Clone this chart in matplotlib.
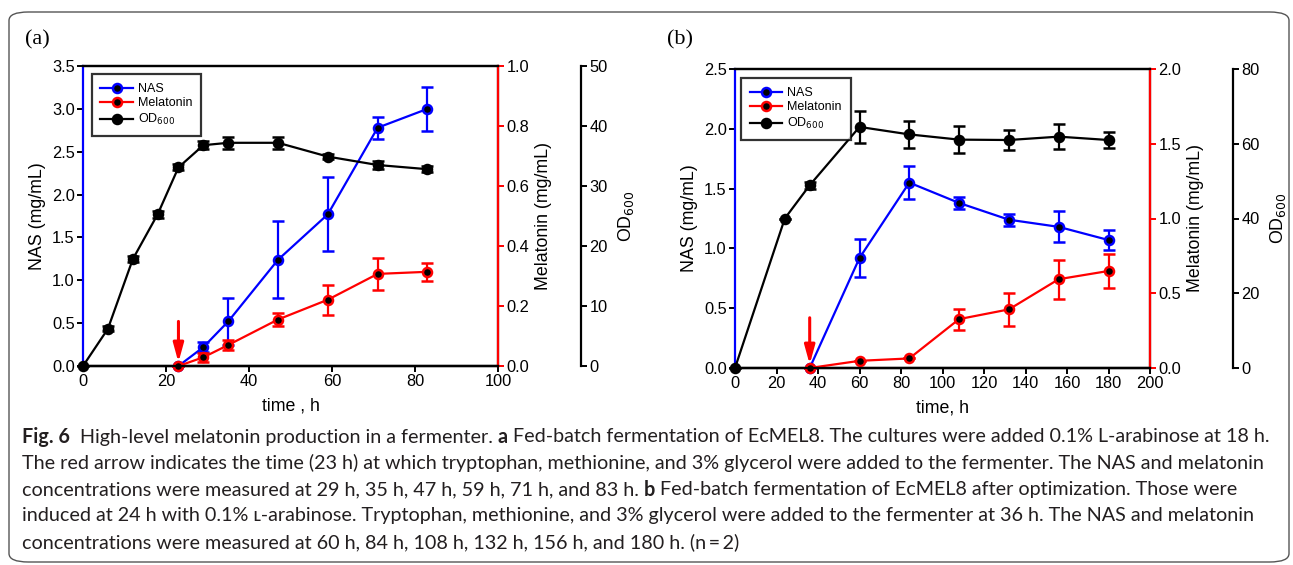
import matplotlib
matplotlib.use("Agg")
import matplotlib.pyplot as plt
from matplotlib.patches import FancyBboxPatch

plt.rcParams['font.family'] = ['Liberation Sans', 'DejaVu Sans']

# ---- panel (a) data ----
a_od_t = [0, 6, 12, 18, 23, 29, 35, 47, 59, 71, 83]
a_od = [0, 6.2, 17.8, 25.3, 33.1, 36.8, 37.2, 37.2, 34.9, 33.5, 32.8]
a_od_err = [0, 0.4, 0.5, 0.6, 0.5, 0.7, 1.0, 1.0, 0.4, 0.7, 0.5]
a_t = [23, 29, 35, 47, 59, 71, 83]
a_nas = [0, 0.22, 0.52, 1.24, 1.77, 2.78, 3.0]
a_nas_err = [0, 0.06, 0.27, 0.45, 0.43, 0.13, 0.26]
a_mel = [0, 0.029, 0.070, 0.155, 0.221, 0.307, 0.314]
a_mel_err = [0, 0.015, 0.018, 0.022, 0.05, 0.053, 0.031]
a_feed = 23

# ---- panel (b) data ----
b_od_t = [0, 24, 36, 60, 84, 108, 132, 156, 180]
b_od = [0, 40.0, 48.9, 64.5, 62.5, 61.1, 61.0, 61.9, 61.0]
b_od_err = [0, 0, 0.9, 4.3, 3.6, 3.6, 2.8, 3.3, 2.2]
b_t = [36, 60, 84, 108, 132, 156, 180]
b_nas = [0, 0.92, 1.55, 1.38, 1.24, 1.18, 1.07]
b_nas_err = [0, 0.16, 0.14, 0.05, 0.05, 0.13, 0.08]
b_mel = [0, 0.048, 0.064, 0.327, 0.392, 0.594, 0.649]
b_mel_err = [0, 0, 0, 0.07, 0.108, 0.13, 0.112]
b_feed = 36

W, H = 1293, 565
fig = plt.figure(figsize=(W / 100, H / 100), dpi=100)

# rounded border around the whole figure
fig.patches.append(FancyBboxPatch((9 / W, 3 / H), 1280 / W, 550 / H,
                                  boxstyle="round,pad=0,rounding_size=0.015",
                                  transform=fig.transFigure, fill=False,
                                  ec='#555555', lw=1.0))


def panel(rect, od_t, od, od_err, t, nas, nas_err, mel, mel_err, feed,
          xmax, xstep, nasmax, nasstep, melmax, melstep, odmax, odstep,
          xlabel, legpos, arrow_top):
    ax = fig.add_axes(rect)
    ax2 = ax.twinx()
    ax3 = ax.twinx()
    ax3.spines['right'].set_position(('axes', 1.2))
    lw = 1.6
    eb = dict(capsize=4, capthick=lw, elinewidth=lw, lw=lw, marker='o',
              ms=6.5, mfc='black', mew=1.8, clip_on=False)
    h1 = ax.errorbar(t, nas, yerr=nas_err, color='blue', mec='blue', zorder=3, **eb)
    h2 = ax2.errorbar(t, mel, yerr=mel_err, color='red', mec='red', zorder=3, **eb)
    h3 = ax3.errorbar(od_t, od, yerr=od_err, color='black', mec='black', zorder=3, **eb)
    for line in (h1, h2, h3):
        for c in line.get_children():
            c.set_clip_on(False)

    ax.set_xlim(0, xmax)
    ax.set_xticks(range(0, xmax + 1, xstep))
    ax.set_ylim(0, nasmax)
    ax.set_yticks([i * nasstep for i in range(int(round(nasmax / nasstep)) + 1)])
    ax.yaxis.set_major_formatter(plt.FormatStrFormatter('%.1f'))
    ax2.set_ylim(0, melmax)
    ax2.set_yticks([i * melstep for i in range(int(round(melmax / melstep)) + 1)])
    ax2.yaxis.set_major_formatter(plt.FormatStrFormatter('%.1f'))
    ax3.set_ylim(0, odmax)
    ax3.set_yticks(range(0, odmax + 1, odstep))

    for a in (ax, ax2, ax3):
        for s in a.spines.values():
            s.set_linewidth(1.6)
        a.tick_params(direction='out', width=1.4, length=4, labelsize=11.8, pad=2)
    ax.spines['left'].set_color('blue')
    ax2.spines['right'].set_color('red')
    ax2.tick_params(axis='y', colors='red', labelcolor='black')
    ax3.spines['top'].set_visible(False)
    ax3.spines['left'].set_visible(False)
    ax2.spines['left'].set_visible(False)

    ax.set_ylabel('NAS (mg/mL)', fontsize=12.8, labelpad=4)
    ax2.set_ylabel('Melatonin (mg/mL)', fontsize=12.8, labelpad=4)
    ax3.set_ylabel('OD$_{600}$', fontsize=12.8, labelpad=6)
    ax.set_xlabel(xlabel, fontsize=12.8, labelpad=6)

    ax.annotate('', xy=(feed, 0.03 * nasmax / 2.5), xytext=(feed, arrow_top),
                arrowprops=dict(arrowstyle='-|>,head_length=0.8,head_width=0.22',
                                color='red', lw=2.2,
                                mutation_scale=14, shrinkA=0, shrinkB=0))

    leg = ax3.legend([h1[0], h2[0], h3[0]], ['NAS', 'Melatonin', 'OD$_{600}$'],
                     loc='upper left', bbox_to_anchor=legpos, fontsize=9,
                     frameon=True, fancybox=False, handlelength=2.6,
                     borderpad=0.7, labelspacing=0.2, handletextpad=0.4,
                     borderaxespad=0.3)
    leg.get_frame().set_edgecolor('black')
    leg.get_frame().set_linewidth(1.6)
    return ax


panel([83 / W, 1 - 366 / H, 415 / W, 300 / H], a_od_t, a_od, a_od_err,
      a_t, a_nas, a_nas_err, a_mel, a_mel_err, a_feed,
      100, 20, 3.5, 0.5, 1.0, 0.2, 50, 10, 'time , h', (0.012, 0.985), 0.52)
panel([735 / W, 1 - 368 / H, 415 / W, 299 / H], b_od_t, b_od, b_od_err,
      b_t, b_nas, b_nas_err, b_mel, b_mel_err, b_feed,
      200, 20, 2.5, 0.5, 2.0, 0.5, 80, 20, 'time, h', (0.006, 0.982), 0.42)

fig.text(25 / W, 1 - 40 / H, '(a)', family='Liberation Serif', fontsize=16, va='center')
fig.text(667 / W, 1 - 40 / H, '(b)', family='Liberation Serif', fontsize=16, va='center')

# ---- caption ----
cap_lines = [
    [("Fig. 6", True), ("  High-level melatonin production in a fermenter. ", False), ("a", True),
     (" Fed-batch fermentation of EcMEL8. The cultures were added 0.1% L-arabinose at 18 h.", False)],
    [("The red arrow indicates the time (23 h) at which tryptophan, methionine, and 3% glycerol "
      "were added to the fermenter. The NAS and melatonin", False)],
    [("concentrations were measured at 29 h, 35 h, 47 h, 59 h, 71 h, and 83 h. ", False), ("b", True),
     (" Fed-batch fermentation of EcMEL8 after optimization. Those were", False)],
    [("induced at 24 h with 0.1% \u029f-arabinose. Tryptophan, methionine, and 3% glycerol were "
      "added to the fermenter at 36 h. The NAS and melatonin", False)],
    [("concentrations were measured at 60 h, 84 h, 108 h, 132 h, 156 h, and 180 h. (n\u2009=\u20092)", False)],
]
cap_family = ['Lato', 'DejaVu Sans']
renderer = fig.canvas.get_renderer()


def draw_line(segs, y, size, draw=True):
    x = 22
    items = []
    for s, bold in segs:
        t = fig.text(x / W, 1 - y / H, s, fontsize=size, family=cap_family,
                     weight='bold' if bold else 'normal', color='#231f20',
                     va='center', ha='left')
        bb = t.get_window_extent(renderer)
        x += bb.width
        items.append(t)
    if not draw:
        for t in items:
            t.remove()
    return x


base = 12.0
end = draw_line(cap_lines[0], 437, base, draw=False)
size = base * (1268 - 22) / (end - 22)
for i, segs in enumerate(cap_lines):
    draw_line(segs, 437 + 26.3 * i, size)

fig.savefig('out.png', dpi=100)
